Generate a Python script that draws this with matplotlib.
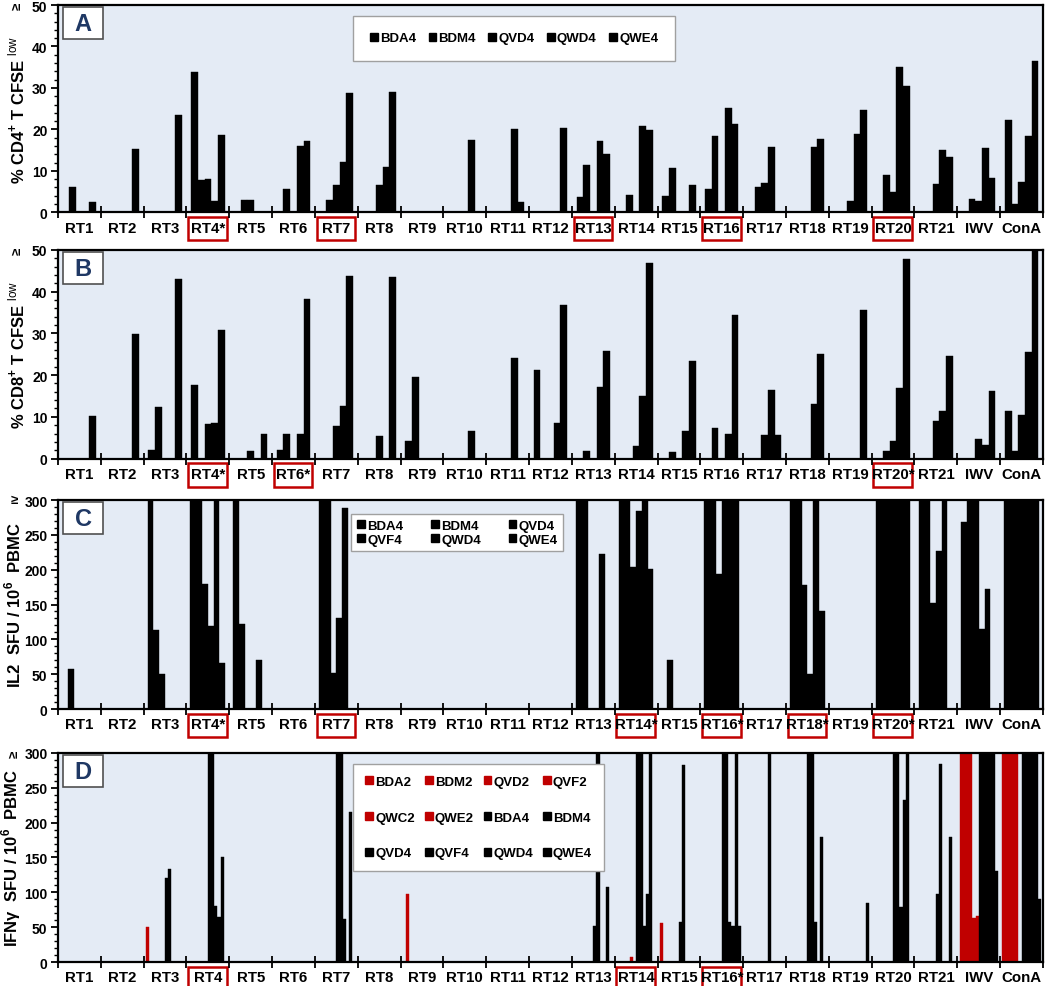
import matplotlib
matplotlib.use('Agg')
import matplotlib.pyplot as plt
import matplotlib.transforms as mtransforms
import numpy as np
from matplotlib.patches import Rectangle, Patch
from matplotlib.ticker import MultipleLocator

plt.rcParams['font.family'] = ['Liberation Sans', 'DejaVu Sans']
plt.rcParams['mathtext.fontset'] = 'custom'
plt.rcParams['mathtext.rm'] = 'Liberation Sans'
plt.rcParams['mathtext.bf'] = 'Liberation Sans:bold'

cats = ['RT1', 'RT2', 'RT3', 'RT4', 'RT5', 'RT6', 'RT7', 'RT8', 'RT9', 'RT10', 'RT11',
        'RT12', 'RT13', 'RT14', 'RT15', 'RT16', 'RT17', 'RT18', 'RT19', 'RT20', 'RT21',
        'IWV', 'ConA']

# panel A : % CD4+ T CFSE low
A_names = ['BDA4', 'BDM4', 'QVD4', 'QWD4', 'QWE4']
A_BDA4 = [0, 0, 0, 33.8, 0, 0, 0, 0, 0, 0, 0, 0, 3.6, 0, 4.0, 5.7, 0, 0, 0, 0, 0, 0, 22.2]
A_BDM4 = [6.2, 0, 0, 7.7, 3.0, 5.6, 3.0, 0, 0, 0, 0, 0, 11.3, 4.2, 10.6, 18.5, 6.2, 0, 0, 8.9, 0, 3.1, 2.1]
A_QVD4 = [0, 0, 0, 8.0, 3.0, 0, 6.6, 6.6, 0, 0, 0, 0, 0, 0, 0, 0, 7.1, 0, 2.7, 5.0, 6.8, 2.8, 7.2]
A_QWD4 = [0, 0, 0, 2.7, 0, 16.0, 12.1, 10.9, 0, 17.4, 20.2, 0, 17.3, 20.9, 0, 25.2, 15.7, 15.7, 18.8, 35.0, 15.1, 15.4, 18.5]
A_QWE4 = [2.4, 15.3, 23.4, 18.6, 0, 17.1, 28.7, 28.9, 0, 0, 2.6, 20.4, 14.1, 19.9, 6.6, 21.3, 0, 17.8, 24.6, 30.4, 13.4, 8.3, 36.4]

# panel B : % CD8+ T CFSE low
B_BDA4 = [0, 0, 2.0, 17.6, 0, 2.0, 0, 0, 4.2, 0, 0, 21.3, 0, 0, 0, 0, 0, 0, 0, 0, 0, 0, 11.4]
B_BDM4 = [0, 0, 12.4, 0, 0, 6.0, 0, 0, 19.5, 0, 0, 0, 1.9, 0, 1.6, 7.3, 0, 0, 0, 1.9, 0, 0, 1.8]
B_QVD4 = [0, 0, 0, 8.2, 1.9, 0, 7.8, 5.4, 0, 0, 0, 0, 0, 3.1, 0, 0, 5.7, 0, 0, 4.3, 9.1, 4.7, 10.4]
B_QWD4 = [0, 0, 0, 8.6, 0, 5.8, 12.6, 0, 0, 6.5, 24.0, 8.5, 17.1, 15.1, 6.7, 5.9, 16.5, 13.1, 0, 16.9, 11.5, 3.2, 25.6]
B_QWE4 = [10.1, 29.8, 43.0, 30.7, 5.8, 38.2, 43.8, 43.5, 0, 0, 0, 36.8, 25.8, 46.8, 23.4, 34.5, 5.7, 25.1, 35.7, 47.8, 24.6, 16.1, 50]

# panel C : IL2 SFU / 10^6 PBMC
C_names = ['BDA4', 'BDM4', 'QVD4', 'QVF4', 'QWD4', 'QWE4']
C_BDA4 = [0, 0, 300, 300, 300, 0, 300, 0, 0, 0, 0, 0, 300, 300, 0, 300, 0, 300, 0, 300, 300, 268, 300]
C_BDM4 = [57, 0, 113, 300, 122, 0, 300, 0, 0, 0, 0, 0, 300, 300, 71, 300, 0, 300, 0, 300, 300, 300, 300]
C_QVD4 = [0, 0, 51, 180, 0, 0, 52, 0, 0, 0, 0, 0, 0, 204, 0, 194, 0, 178, 0, 300, 152, 300, 300]
C_QVF4 = [0, 0, 0, 119, 0, 0, 130, 0, 0, 0, 0, 0, 0, 284, 0, 300, 0, 51, 0, 300, 227, 115, 300]
C_QWD4 = [0, 0, 0, 300, 70, 0, 288, 0, 0, 0, 0, 0, 222, 300, 0, 300, 0, 300, 0, 300, 300, 172, 300]
C_QWE4 = [0, 0, 0, 66, 0, 0, 0, 0, 0, 0, 0, 0, 0, 201, 0, 300, 0, 140, 0, 300, 0, 0, 300]

# panel D : IFNg SFU / 10^6 PBMC
D_names = ['BDA2', 'BDM2', 'QVD2', 'QVF2', 'QWC2', 'QWE2',
           'BDA4', 'BDM4', 'QVD4', 'QVF4', 'QWD4', 'QWE4']
D_BDA2 = [0, 0, 50, 0, 0, 0, 0, 0, 0, 0, 0, 0, 0, 0, 56, 0, 0, 0, 0, 0, 0, 300, 300]
D_BDM2 = [0, 0, 0, 0, 0, 0, 0, 0, 97, 0, 0, 0, 0, 0, 0, 0, 0, 0, 0, 0, 0, 300, 300]
D_QVD2 = [0, 0, 0, 0, 0, 0, 0, 0, 0, 0, 0, 0, 0, 0, 0, 0, 0, 0, 0, 0, 0, 300, 300]
D_QVF2 = [0, 0, 0, 0, 0, 0, 0, 0, 0, 0, 0, 0, 0, 0, 0, 0, 0, 0, 0, 0, 0, 300, 300]
D_QWC2 = [0, 0, 0, 0, 0, 0, 0, 0, 0, 0, 0, 0, 0, 7, 0, 0, 0, 0, 0, 0, 0, 63, 300]
D_QWE2 = [0, 0, 0, 0, 0, 0, 0, 0, 0, 0, 0, 0, 0, 0, 0, 0, 0, 0, 0, 0, 0, 66, 0]
D_BDA4 = [0, 0, 120, 300, 0, 0, 300, 0, 0, 0, 0, 0, 52, 300, 58, 300, 0, 300, 0, 300, 98, 300, 300]
D_BDM4 = [0, 0, 134, 300, 0, 0, 300, 0, 0, 0, 0, 0, 300, 300, 283, 300, 300, 300, 0, 300, 284, 300, 300]
D_QVD4 = [0, 0, 0, 80, 0, 0, 62, 0, 0, 0, 0, 0, 0, 52, 0, 57, 0, 57, 0, 79, 0, 300, 300]
D_QVF4 = [0, 0, 0, 64, 0, 0, 0, 0, 0, 0, 0, 0, 0, 97, 0, 52, 0, 0, 0, 232, 0, 300, 300]
D_QWD4 = [0, 0, 0, 150, 0, 0, 215, 0, 0, 0, 0, 0, 107, 300, 0, 300, 0, 179, 0, 300, 180, 300, 300]
D_QWE4 = [0, 0, 0, 0, 0, 0, 0, 0, 0, 0, 0, 0, 0, 0, 0, 52, 0, 0, 85, 0, 0, 130, 91]

RED = '#C00000'
BG = '#E4EBF5'
NAVY = '#1F3864'


def row_major(items, ncol):
    nrow = int(np.ceil(len(items) / ncol))
    return [items[r * ncol + c] for c in range(ncol) for r in range(nrow)
            if r * ncol + c < len(items)]


def panel(ax, series, names, colors, ymax, major, minor, ylabel, letter,
          starred, boxed, leg_ncol, leg_anchor, leg_spacing, ge_pos, ge_rot, ylab_x):
    n = len(series)
    w = 1.0 / (n + 1.4)
    x = np.arange(len(cats))
    ax.set_facecolor(BG)
    for k, (vals, col) in enumerate(zip(series, colors)):
        ax.bar(x - n * w / 2 + (k + 0.5) * w, np.minimum(vals, ymax), width=w,
               color=col, edgecolor=col, linewidth=0.3, zorder=2)
    ax.set_xlim(-0.5, len(cats) - 0.5)
    ax.set_ylim(0, ymax)

    # category boundaries as ticks, names centred between them
    ax.set_xticks(np.arange(-0.5, len(cats), 1.0))
    ax.set_xticklabels([])
    labels = [c + '*' if c in starred else c for c in cats]
    ax.set_xticks(x, labels=labels, minor=True)
    ax.tick_params(axis='x', which='major', direction='inout', length=8, width=1.3)
    ax.tick_params(axis='x', which='minor', length=0, pad=6)
    for t in ax.get_xticklabels(minor=True):
        t.set_fontweight('bold')
        t.set_fontsize(10.8)

    ax.yaxis.set_major_locator(MultipleLocator(major))
    ax.yaxis.set_minor_locator(MultipleLocator(minor))
    ax.tick_params(axis='y', which='major', length=5, width=1.3, labelsize=10, pad=2.5)
    ax.tick_params(axis='y', which='minor', length=3, width=1)
    for t in ax.get_yticklabels():
        t.set_fontweight('bold')
    for s in ax.spines.values():
        s.set_linewidth(1.6)

    ax.set_ylabel(ylabel, fontsize=12, fontweight='bold')
    ax.yaxis.set_label_coords(ylab_x, 0.5)
    ax.text(ge_pos[0], ge_pos[1], '≥', transform=ax.transAxes, rotation=ge_rot,
            fontsize=9.5, fontweight='bold', ha='center', va='center')

    # panel letter
    ax.add_patch(Rectangle((0.005, 0.835), 0.041, 0.155, transform=ax.transAxes,
                           facecolor='white', edgecolor='#505050', lw=1.2, zorder=5))
    ax.text(0.0255, 0.912, letter, transform=ax.transAxes, ha='center', va='center',
            fontsize=17, fontweight='bold', color=NAVY, zorder=6)

    # red frames round the marked categories
    trans = mtransforms.blended_transform_factory(ax.transData, ax.transAxes)
    for c in boxed:
        i = cats.index(c)
        ax.add_patch(Rectangle((i - 0.46, -0.135), 0.9, 0.112, transform=trans,
                               fill=False, edgecolor=RED, lw=1.8, clip_on=False))

    handles = [Patch(facecolor=col, edgecolor=col, label=nm) for nm, col in zip(names, colors)]
    handles = row_major(handles, leg_ncol)
    leg = ax.legend(handles=handles, ncol=leg_ncol, loc='upper left',
                    bbox_to_anchor=leg_anchor, fancybox=False, framealpha=1,
                    edgecolor='#A0A0A0', handlelength=0.6, handleheight=0.6,
                    handletextpad=0.15, columnspacing=leg_spacing[0],
                    labelspacing=leg_spacing[1], borderpad=leg_spacing[2],
                    borderaxespad=0, prop={'weight': 'bold', 'size': 9.5})
    leg.get_frame().set_linewidth(1.0)
    leg.set_zorder(7)


fig = plt.figure(figsize=(10.5, 9.87), dpi=100)
axA = fig.add_axes([0.0552, 0.7839, 0.9381, 0.2100])
axB = fig.add_axes([0.0552, 0.5344, 0.9381, 0.2113])
axC = fig.add_axes([0.0552, 0.2806, 0.9381, 0.2118])
axD = fig.add_axes([0.0552, 0.0243, 0.9381, 0.2118])

panel(axA, [A_BDA4, A_BDM4, A_QVD4, A_QWD4, A_QWE4], A_names, ['black'] * 5,
      50, 10, 2, r'% CD4$^{\mathbf{+}}$ T CFSE $^{\mathrm{low}}$', 'A',
      ['RT4'], ['RT4', 'RT7', 'RT13', 'RT16', 'RT20'],
      5, (0.30, 0.947), (0.95, 0.5, 1.25), (-0.041, 1.0), 90, -0.031)

panel(axB, [B_BDA4, B_BDM4, B_QVD4, B_QWD4, B_QWE4], A_names, ['black'] * 5,
      50, 10, 2, r'% CD8$^{\mathbf{+}}$ T CFSE $^{\mathrm{low}}$', 'B',
      ['RT4', 'RT6', 'RT20'], ['RT4', 'RT6', 'RT20'],
      5, (0.30, 0.947), (0.95, 0.5, 1.25), (-0.041, 1.0), 90, -0.031)
axB.get_legend().remove()

panel(axC, [C_BDA4, C_BDM4, C_QVD4, C_QVF4, C_QWD4, C_QWE4], C_names, ['black'] * 6,
      300, 50, 10, r'IL2  SFU / 10$^{\mathbf{6}}$  PBMC', 'C',
      ['RT4', 'RT14', 'RT16', 'RT18', 'RT20'], ['RT4', 'RT7', 'RT14', 'RT16', 'RT18', 'RT20'],
      3, (0.298, 0.935), (2.1, 0.15, 0.45), (-0.044, 1.0), 0, -0.035)

panel(axD, [D_BDA2, D_BDM2, D_QVD2, D_QVF2, D_QWC2, D_QWE2,
            D_BDA4, D_BDM4, D_QVD4, D_QVF4, D_QWD4, D_QWE4], D_names,
      [RED] * 6 + ['black'] * 6,
      300, 50, 10, r'IFNγ  SFU / 10$^{\mathbf{6}}$  PBMC', 'D',
      ['RT16'], ['RT4', 'RT14', 'RT16'],
      4, (0.30, 0.947), (0.75, 1.8, 0.9), (-0.044, 1.0), 90, -0.035)

fig.savefig('out.png', dpi=100)
